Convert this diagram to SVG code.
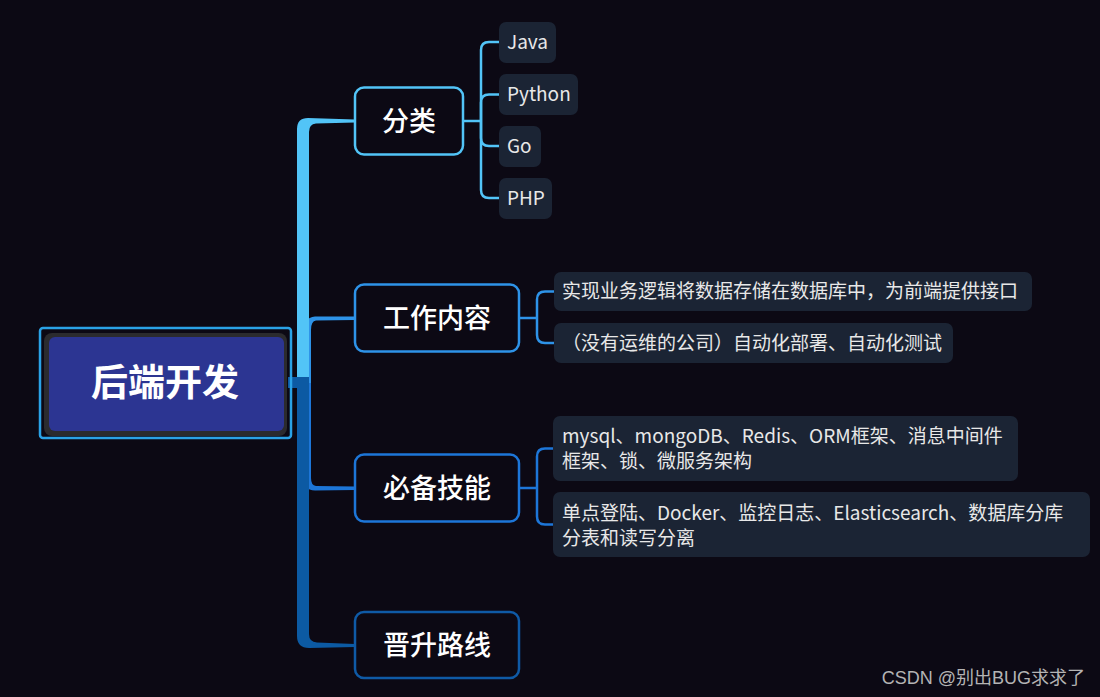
<svg xmlns="http://www.w3.org/2000/svg" width="1100" height="697" viewBox="0 0 1100 697">
<style>
  .bg{fill:#0c0914}
  .main{fill:#0c0914;stroke-width:2.5}
  .leaf{fill:#1b2434}
  .mt{font-family:"Noto Sans CJK SC","Noto Sans",sans-serif;font-size:27px;font-weight:500;fill:#ffffff;text-anchor:middle}
  .lt{font-family:"Noto Sans CJK SC","Noto Sans",sans-serif;font-size:19px;fill:#e8e8e8}
  .con{fill:none;stroke-width:2.5}
</style>
<rect class="bg" x="0" y="0" width="1100" height="697"/>

<g id="connectors">
  <path d="M303,383 V330 Q303,318 315,316.5 L355,316.5 L355,320 L316,320.5 Q311,321 311,330 V383 Z" fill="#2e93e8"/>
  <path d="M303,383 V478 Q303,490 315,490.5 L355,490 L355,486.5 L316,486 Q311,485.5 311,478 V383 Z" fill="#1d76d8"/>
  <path d="M297,383 V129 Q297,118 308,118 L355,119.5 L355,122.5 L316,123.5 Q309,124 309,132 V383 Z" fill="#52c4f7"/>
  <path d="M297,377 V636 Q297,648 309,648 L355,647 L355,644 L317,642.5 Q309,642 309,634 V377 Z" fill="#0c5aa3"/>
  <rect x="288" y="377" width="12" height="11" fill="#0c5aa3"/>
  <g stroke="#52c4f7" class="con">
    <path class="con" d="M463,121 H481"/>
    <path class="con" d="M481,121 V50 Q481,42 489,42 H499"/>
    <path class="con" d="M481,121 V102.5 Q481,94.5 489,94.5 H499"/>
    <path class="con" d="M481,121 V138 Q481,146 489,146 H499"/>
    <path class="con" d="M481,121 V190 Q481,198 489,198 H499"/>
  </g>
  <g stroke="#2e93e8" class="con">
    <path class="con" d="M519,318 H537"/>
    <path class="con" d="M537,318 V299.5 Q537,291.5 545,291.5 H554"/>
    <path class="con" d="M537,318 V335 Q537,343 545,343 H554"/>
  </g>
  <g stroke="#1d76d8" class="con">
    <path class="con" d="M519,488 H537"/>
    <path class="con" d="M537,488 V456.5 Q537,448.5 545,448.5 H553"/>
    <path class="con" d="M537,488 V516.5 Q537,524.5 545,524.5 H553"/>
  </g>
</g>

<g id="root">
  <rect x="40" y="328" width="251" height="110" rx="3" fill="none" stroke="#2aa2e6" stroke-width="2.5"/>
  <rect x="44" y="333" width="243" height="103" rx="8" fill="#2b2b2e"/>
  <rect x="49" y="337" width="235" height="94" rx="6" fill="#2c3592"/>
  <text x="165" y="396" font-family="Noto Sans CJK SC,Noto Sans,sans-serif" font-size="37" font-weight="700" fill="#ffffff" text-anchor="middle">后端开发</text>
</g>

<g id="n-fenlei">
  <rect class="main" x="355" y="87.5" width="108" height="67" rx="9" stroke="#52c4f7"/>
  <text class="mt" x="409" y="131">分类</text>
</g>
<g id="n-gongzuo">
  <rect class="main" x="355" y="284.5" width="164" height="67" rx="9" stroke="#2e93e8"/>
  <text class="mt" x="437" y="328">工作内容</text>
</g>
<g id="n-bibei">
  <rect class="main" x="355" y="454.5" width="164" height="67" rx="9" stroke="#1d76d8"/>
  <text class="mt" x="437" y="498">必备技能</text>
</g>
<g id="n-jinsheng">
  <rect class="main" x="355" y="612" width="164" height="66" rx="9" stroke="#0f5aa6"/>
  <text class="mt" x="437" y="655">晋升路线</text>
</g>

<g id="l-java">
  <rect class="leaf" x="499" y="22" width="57" height="41" rx="7"/>
  <text class="lt" x="507" y="49">Java</text>
</g>
<g id="l-python">
  <rect class="leaf" x="499" y="74" width="79" height="41" rx="7"/>
  <text class="lt" x="507" y="101">Python</text>
</g>
<g id="l-go">
  <rect class="leaf" x="499" y="126" width="42" height="41" rx="7"/>
  <text class="lt" x="507" y="153">Go</text>
</g>
<g id="l-php">
  <rect class="leaf" x="499" y="178" width="53" height="41" rx="7"/>
  <text class="lt" x="507" y="205">PHP</text>
</g>

<g id="l-work1">
  <rect class="leaf" x="554" y="272" width="478" height="39" rx="7"/>
  <text class="lt" x="562" y="298">实现业务逻辑将数据存储在数据库中，为前端提供接口</text>
</g>
<g id="l-work2">
  <rect class="leaf" x="554" y="323" width="399" height="40" rx="7"/>
  <text class="lt" x="562" y="350">（没有运维的公司）自动化部署、自动化测试</text>
</g>

<g id="l-skill1">
  <rect class="leaf" x="553" y="416" width="465" height="65" rx="7"/>
  <text class="lt" x="562" y="443">mysql、mongoDB、Redis、ORM框架、消息中间件</text>
  <text class="lt" x="562" y="468">框架、锁、微服务架构</text>
</g>
<g id="l-skill2">
  <rect class="leaf" x="553" y="492" width="537" height="65" rx="7"/>
  <text class="lt" x="562" y="520">单点登陆、Docker、监控日志、Elasticsearch、数据库分库</text>
  <text class="lt" x="562" y="545">分表和读写分离</text>
</g>

<text x="1085" y="684" font-family="Liberation Sans,Noto Sans CJK SC,sans-serif" font-size="18" fill="#b4b4b4" text-anchor="end">CSDN @别出BUG求求了</text>
</svg>
